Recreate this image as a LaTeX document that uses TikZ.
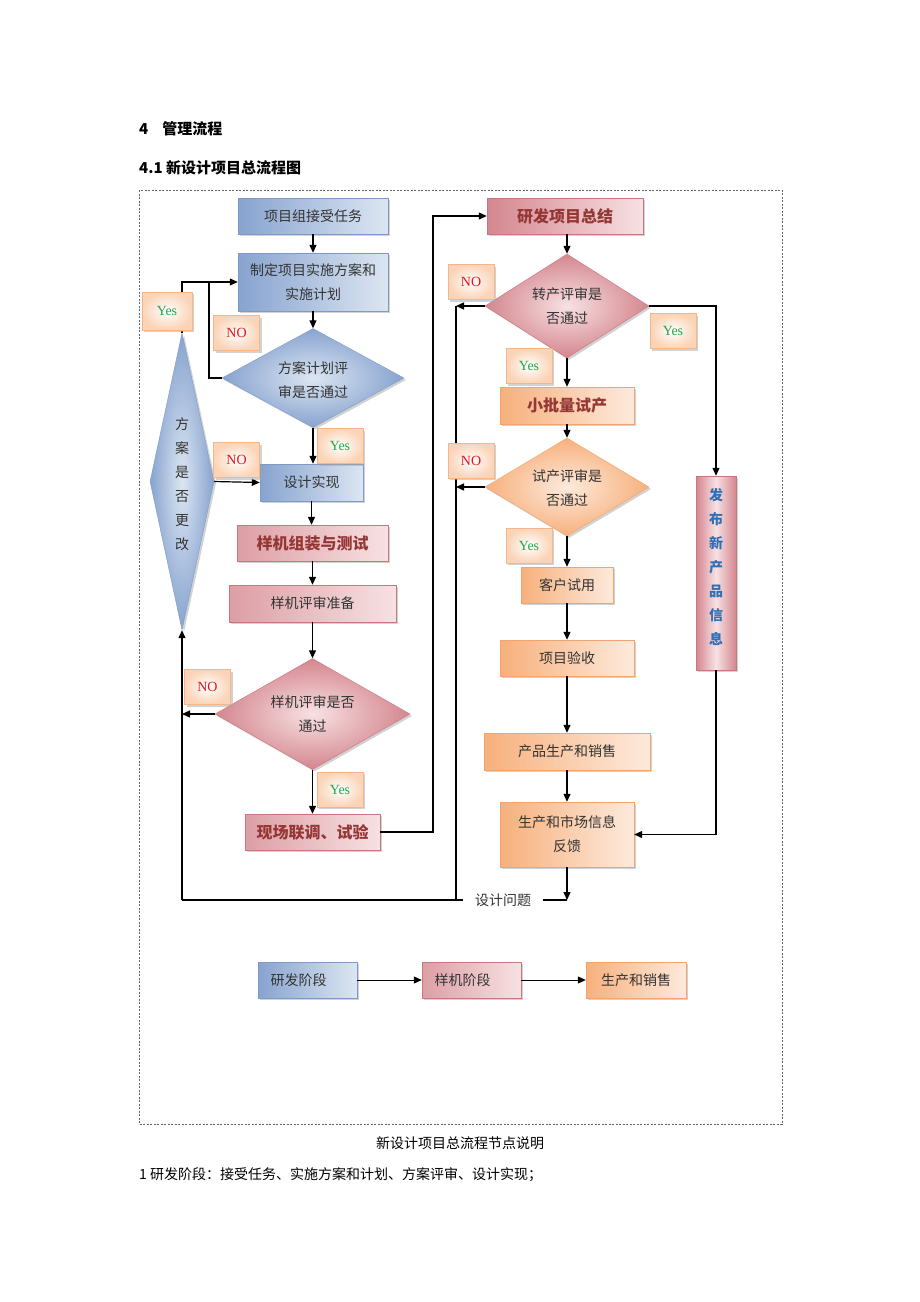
\documentclass[tikz,border=0pt]{standalone}
\usepackage{fontspec}
\setmainfont{Liberation Serif}
\newfontfamily\cjk{Noto Sans CJK SC}
\usetikzlibrary{shapes.geometric,arrows.meta,shadows}
\definecolor{blueA}{HTML}{87A3CF}
\definecolor{blueB}{HTML}{DCE6F2}
\definecolor{blueD}{HTML}{7E9BC6}
\definecolor{pinkA}{HTML}{D4868E}
\definecolor{pinkB}{HTML}{F7E1E3}
\definecolor{pinkD}{HTML}{C8767F}
\definecolor{orA}{HTML}{F7B07C}
\definecolor{orB}{HTML}{FDEADC}
\definecolor{orD}{HTML}{F2A46C}
\definecolor{txt}{HTML}{333333}
\definecolor{redT}{HTML}{953735}
\definecolor{blueT}{HTML}{2F6FB5}
\definecolor{yesG}{HTML}{1FA84A}
\definecolor{noR}{HTML}{E8121E}
\tikzset{
  shad/.style={drop shadow={shadow xshift=2pt,shadow yshift=-2pt,fill=black!35,opacity=0.5}},
  boxbase/.style={rectangle,inner sep=0pt,align=center,shad,text=txt,font=\cjk\fontsize{14}{24}\selectfont},
  bbox/.style={boxbase,draw=blueD,left color=blueA,right color=blueB},
  pbox/.style={boxbase,draw=pinkD,left color=pinkA!80,right color=pinkB},
  obox/.style={boxbase,draw=orD,left color=orA,right color=orB},
  boldred/.style={text=redT,font=\cjk\bfseries\fontsize{16}{20}\selectfont},
  bdia/.style={diamond,inner sep=0pt,draw=blueD,shad,inner color=blueB,outer color=blueA},
  pdia/.style={diamond,inner sep=0pt,draw=pinkD,shad,inner color=pinkB,outer color=pinkA},
  odia/.style={diamond,inner sep=0pt,draw=orD,shad,inner color=orB,outer color=orA},
  dtext/.style={align=center,text=txt,font=\cjk\fontsize{14}{24}\selectfont},
  lab/.style={rectangle,draw=orD!80,inner color=white,outer color=orA!55,shad,minimum width=46pt,minimum height=35pt,inner sep=0pt,font=\fontsize{14}{16}\selectfont},
  yes/.style={lab,text=yesG},
  no/.style={lab,text=noR},
  arr/.style={draw=black,line width=1.2pt,-{Triangle[length=8pt,width=7pt]}},
  ln/.style={draw=black,line width=1.2pt},
}
\begin{document}
\begin{tikzpicture}[x=1pt,y=-1pt]
\useasboundingbox (0,0) rectangle (920,1302);
\fill[white] (0,0) rectangle (920,1302);
% titles
\node[anchor=west,inner sep=0pt,font=\cjk\bfseries\fontsize{15}{18}\selectfont] (t1) at (139,129) {4\hspace{14pt}管理流程};
\node[anchor=west,inner sep=0pt,font=\cjk\bfseries\fontsize{15}{18}\selectfont] (t2) at (139,168) {4.1 新设计项目总流程图};
\draw[dashed,black!60,dash pattern=on 2pt off 1.5pt] (139,190) rectangle (782,1124);

% left column
\node[bbox,minimum width=150pt,minimum height=36pt] (n1) at (313,216) {项目组接受任务};
\node[bbox,minimum width=150pt,minimum height=58pt] (n2) at (313,282) {制定项目实施方案和\\实施计划};
\node[bdia,minimum width=182pt,minimum height=99pt] (d1) at (313,378) {};
\node[dtext] (d1t) at (313,380) {方案计划评\\审是否通过};
\node[bbox,minimum width=103pt,minimum height=37pt] (n3) at (311.5,482.5) {设计实现};
\node[pbox,boldred,minimum width=151pt,minimum height=36pt] (n4) at (312.5,543) {样机组装与测试};
\node[pbox,minimum width=167pt,minimum height=37pt] (n5) at (312.5,603.5) {样机评审准备};
\node[pdia,minimum width=195pt,minimum height=111pt] (d2) at (312.5,714) {};
\node[dtext] (d2t) at (312.5,714) {样机评审是否\\通过};
\node[pbox,boldred,minimum width=135pt,minimum height=36pt] (n6) at (312.5,832) {现场联调、试验};
\node[bdia,minimum width=64pt,minimum height=297pt] (td) at (182,481.5) {};
\node[dtext] (tdt) at (182,484) {方\\案\\是\\否\\更\\改};

% right column
\node[pbox,boldred,left color=pinkA,minimum width=156pt,minimum height=36pt] (m1) at (565,216) {研发项目总结};
\node[pdia,minimum width=164pt,minimum height=104pt] (d3) at (567,306) {};
\node[dtext] (d3t) at (567,306) {转产评审是\\否通过};
\node[obox,boldred,minimum width=134pt,minimum height=37pt] (m2) at (567,405.5) {小批量试产};
\node[odia,minimum width=164pt,minimum height=98pt] (d4) at (567,487) {};
\node[dtext] (d4t) at (567,488) {试产评审是\\否通过};
\node[obox,minimum width=92pt,minimum height=36pt] (m3) at (567,585) {客户试用};
\node[obox,minimum width=134pt,minimum height=36pt] (m4) at (567,658) {项目验收};
\node[obox,minimum width=166pt,minimum height=37pt] (m5) at (567,751.5) {产品生产和销售};
\node[obox,minimum width=134pt,minimum height=65pt] (m6) at (567,834.5) {生产和市场信息\\反馈};
\node[pbox,left color=pinkA,right color=pinkA,middle color=pinkB,shading angle=90,minimum width=40pt,minimum height=194pt] (pub) at (716,573) {};
\node[dtext,text=blueT,font=\cjk\bfseries\fontsize{14}{24}\selectfont] (pubt) at (716,567) {发\\布\\新\\产\\品\\信\\息};

% feedback helpers
\coordinate (jA) at (209,282);
\coordinate (jB) at (433,832);
\coordinate (fb) at (182,900);
\coordinate (jC) at (456,900);
\coordinate (jD) at (567,900);
\node[dtext,inner xsep=12pt,inner ysep=0pt] (dq) at (503,900) {设计问题};

% connectors left
\draw[arr] (n1) -- (n2);
\draw[arr] (n2) -- (d1.north);
\draw[ln] (d1.west) -| (jA);
\draw[arr] (td.north) |- (n2.west);
\draw[arr] (d1.south) -- (d1.south |- n3.north);
\draw[arr] (td.east) -- (n3.west);
\draw[arr] (n3.south) -- (n3.south |- n4.north);
\draw[arr] (n4) -- (n5);
\draw[arr] (n5) -- (d2.north);
\draw[arr] (d2.west) -- (d2.west -| td.south);
\draw[arr] (d2.south) -- (n6.north);
\draw[arr] (fb) -- (td.south);
\draw[ln] (fb) -- (fb -| dq.west);
\draw[ln] (jC) -- (jC |- d3.west);
\draw[arr] (n6.east) -- (jB) |- (m1.west);
% connectors right
\draw[arr] (m1.south -| d3.north) -- (d3.north);
\draw[arr] (d3.west) -- (d3.west -| jC);
\draw[arr] (d3.south) -- (m2.north);
\draw[arr] (m2) -- (d4.north);
\draw[arr] (d4.west) -- (d4.west -| jC);
\draw[arr] (d4.south) -- (m3.north);
\draw[arr] (m3) -- (m4);
\draw[arr] (m4) -- (m5);
\draw[arr] (m5) -- (m6);
\draw[arr] (d3.east) -| (pub.north);
\draw[arr] (pub.south) |- (m6.east);
\draw[arr] (m6.south) -- (jD);
\draw[ln] (jD -| dq.east) -- (jD);

% labels
\node[yes,minimum width=50pt,minimum height=38pt] (y0) at (167,311) {Yes};
\node[no] (no1) at (236.5,333) {NO};
\node[no] (no2) at (236.5,460) {NO};
\node[yes] (y1) at (340,446) {Yes};
\node[no] (no3) at (207.5,687) {NO};
\node[yes] (y2) at (340,789.5) {Yes};
\node[no] (no4) at (471,282) {NO};
\node[yes] (y3) at (673,331) {Yes};
\node[yes] (y4) at (529,366) {Yes};
\node[no] (no5) at (471,460.5) {NO};
\node[yes] (y5) at (529,545.5) {Yes};

% legend
\node[bbox,minimum width=99pt,minimum height=36pt] (L1) at (307.5,980) {研发阶段\hspace{18pt}};
\node[pbox,minimum width=99pt,minimum height=36pt] (L2) at (471.5,980) {样机阶段\hspace{18pt}};
\node[obox,minimum width=100pt,minimum height=36pt] (L3) at (636,980) {生产和销售};
\draw[arr,line width=1pt] (L1) -- (L2);
\draw[arr,line width=1pt] (L2) -- (L3);

% captions
\node[dtext,text=black] (cap) at (460,1143) {新设计项目总流程节点说明};
\node[anchor=west,inner sep=0pt,text=black,font=\cjk\fontsize{14}{18}\selectfont] (c1) at (139,1175) {1 研发阶段：接受任务、实施方案和计划、方案评审、设计实现；};
\end{tikzpicture}
\end{document}
